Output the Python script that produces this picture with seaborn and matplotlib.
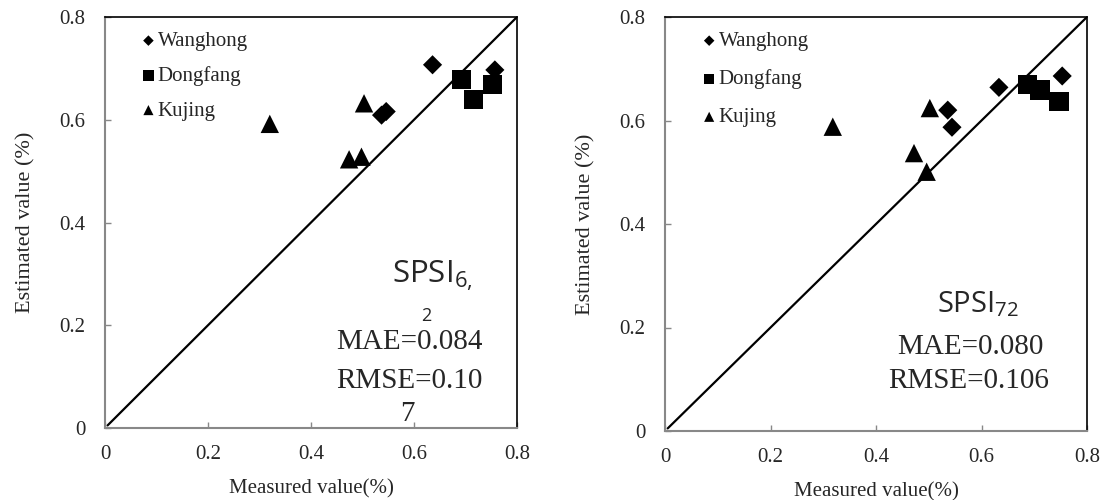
import numpy as np
import pandas as pd
import matplotlib
matplotlib.use("Agg")
import matplotlib.pyplot as plt
import seaborn as sns

# measured / estimated values
sites = ["Wanghong", "Dongfang", "Kujing"]

wh_meas_a = [0.636, 0.757, 0.537, 0.546]
wh_est_a = [0.707, 0.697, 0.609, 0.616]
df_meas_a = [0.693, 0.715, 0.752]
df_est_a = [0.679, 0.640, 0.668]
kj_meas_a = [0.320, 0.503, 0.474, 0.498]
kj_est_a = [0.592, 0.632, 0.523, 0.528]

wh_meas_b = [0.633, 0.753, 0.536, 0.544]
wh_est_b = [0.664, 0.686, 0.620, 0.587]
df_meas_b = [0.688, 0.711, 0.747]
df_est_b = [0.670, 0.659, 0.636]
kj_meas_b = [0.318, 0.502, 0.472, 0.496]
kj_est_b = [0.588, 0.624, 0.537, 0.501]

line_xy = [0.005, 0.8]
ticks = [0, 0.2, 0.4, 0.6, 0.8]
tick_labels = ["0", "0.2", "0.4", "0.6", "0.8"]

sns.set_theme(style="white")
plt.rcParams["font.family"] = ["Liberation Serif", "DejaVu Serif"]
plt.rcParams["mathtext.fontset"] = "custom"
plt.rcParams["mathtext.rm"] = "Open Sans"

markers = {"Wanghong": "D", "Dongfang": "s", "Kujing": "^"}
msize = {"Wanghong": 95, "Dongfang": 190, "Kujing": 175}


def make_df(wm, we, dm, de, km, ke):
    rows = []
    for s, m, e in [("Wanghong", wm, we), ("Dongfang", dm, de), ("Kujing", km, ke)]:
        for a, b in zip(m, e):
            rows.append({"site": s, "measured": a, "estimated": b})
    return pd.DataFrame(rows)


def draw_panel(ax, df, spacing):
    for s in sites:
        sub = df[df.site == s]
        sns.scatterplot(data=sub, x="measured", y="estimated", ax=ax,
                        marker=markers[s], s=msize[s], color="black",
                        edgecolor="none", label=s)
    sns.lineplot(x=line_xy, y=line_xy, ax=ax, color="black", lw=1.6)
    ax.set_xlim(0, 0.8)
    ax.set_ylim(0, 0.8)
    ax.set_xticks(ticks)
    ax.set_xticklabels(tick_labels)
    ax.set_yticks(ticks)
    ax.set_yticklabels(tick_labels)
    ax.tick_params(direction="in", length=4, width=1, color="#888888",
                   labelsize=15, bottom=True, left=True)
    ax.tick_params(axis="x", pad=12)
    ax.tick_params(axis="y", pad=14)
    for side in ["left", "bottom"]:
        ax.spines[side].set_color("#888888")
        ax.spines[side].set_linewidth(1.5)
    for side in ["top", "right"]:
        ax.spines[side].set_color("black")
        ax.spines[side].set_linewidth(1.2)
    ax.set_xlabel("Measured value(%)", fontsize=15, labelpad=11)
    ax.set_ylabel("Estimated value (%)", fontsize=16, labelpad=17)
    ax.legend(loc="upper left", bbox_to_anchor=(0.07, 0.985), frameon=False,
              fontsize=15, markerscale=0.55, handlelength=0.6,
              handletextpad=0.15, labelspacing=spacing, borderaxespad=0)


fig = plt.figure(figsize=(11.04, 5), dpi=100)
ax1 = fig.add_axes([0.0951, 0.144, 0.3732, 0.822])
ax2 = fig.add_axes([0.6024, 0.138, 0.3822, 0.828])

draw_panel(ax1, make_df(wh_meas_a, wh_est_a, df_meas_a, df_est_a, kj_meas_a, kj_est_a), 0.72)
draw_panel(ax2, make_df(wh_meas_b, wh_est_b, df_meas_b, df_est_b, kj_meas_b, kj_est_b), 0.88)

# annotations (left text box wraps like the original)
ax1.text(0.697, 0.353, r"SPSI$_\mathregular{6,}$", transform=ax1.transAxes,
         fontsize=22.5, family="Open Sans", ha="left", va="baseline")
ax1.text(0.779, 0.272, "2", transform=ax1.transAxes, fontsize=13,
         family="Open Sans", ha="center", va="center")
ax1.text(0.738, 0.209, "MAE=0.084", transform=ax1.transAxes, fontsize=21,
         ha="center", va="center")
ax1.text(0.738, 0.114, "RMSE=0.10", transform=ax1.transAxes, fontsize=21,
         ha="center", va="center")
ax1.text(0.735, 0.034, "7", transform=ax1.transAxes, fontsize=21,
         ha="center", va="center")

ax2.text(0.645, 0.287, r"SPSI$_\mathregular{72}$", transform=ax2.transAxes,
         fontsize=21, family="Open Sans", ha="left", va="baseline")
ax2.text(0.723, 0.203, "MAE=0.080", transform=ax2.transAxes, fontsize=21,
         ha="center", va="center")
ax2.text(0.720, 0.121, "RMSE=0.106", transform=ax2.transAxes, fontsize=21,
         ha="center", va="center")

fig.savefig("out.png", dpi=100, facecolor="white")
